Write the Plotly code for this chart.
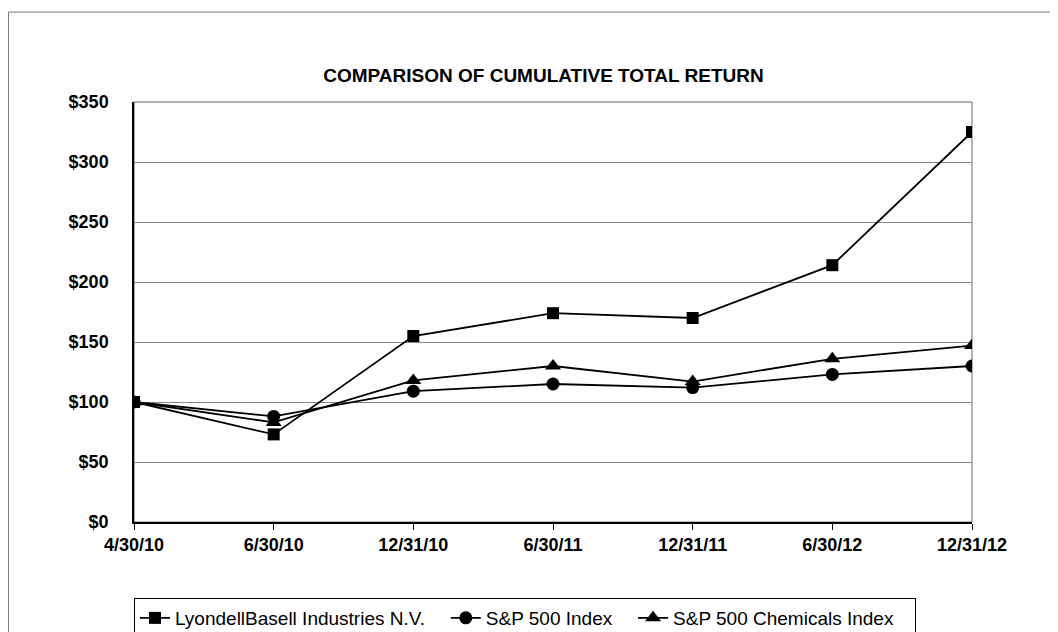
import plotly.graph_objects as go

dates = ["4/30/10", "6/30/10", "12/31/10", "6/30/11", "12/31/11", "6/30/12", "12/31/12"]
lyondell = [100, 73, 155, 174, 170, 214, 325]
sp500 = [100, 88, 109, 115, 112, 123, 130]
chemicals = [100, 83, 118, 130, 117, 136, 147]
yticks = list(range(0, 351, 50))
names = ["LyondellBasell Industries N.V.", "S&P 500 Index", "S&P 500 Chemicals Index"]

x = list(range(len(dates)))
pad = "\u00a0\u00a0\u00a0"
fig = go.Figure()
common = dict(mode="lines+markers", line=dict(color="black", width=1.8))
fig.add_trace(go.Scatter(x=x, y=lyondell, name=names[0] + pad,
                         marker=dict(symbol="square", size=12, color="black"), **common))
fig.add_trace(go.Scatter(x=x, y=sp500, name=names[1] + pad,
                         marker=dict(symbol="circle", size=13, color="black"), **common))
fig.add_trace(go.Scatter(x=x, y=chemicals, name=names[2] + pad,
                         marker=dict(symbol="triangle-up", size=14, color="black"), **common))

fig.update_layout(
    width=1050, height=624,
    margin=dict(l=126, r=86, t=94, b=110, autoexpand=False),
    paper_bgcolor="white", plot_bgcolor="white",
    font=dict(family="Liberation Sans, Arial", color="black"),
    title=dict(text="<b>COMPARISON OF CUMULATIVE TOTAL RETURN</b>", x=0.51, xanchor="center",
               y=0.8926, yanchor="middle", font=dict(size=19)),
    showlegend=True,
    legend=dict(orientation="h", x=0.0, xanchor="left", y=-0.181, yanchor="top",
                bordercolor="black", borderwidth=1, font=dict(size=19),
                tracegroupgap=0),
    xaxis=dict(range=[0, 6], tickvals=x, ticktext=["<b>%s</b>" % d for d in dates],
               showgrid=False, showline=True, linecolor="black", linewidth=1.5,
               ticks="outside", ticklen=6, tickcolor="black", tickfont=dict(size=18),
               zeroline=False, automargin=False),
    yaxis=dict(range=[0, 350], tickvals=yticks, ticktext=["<b>$%d</b>" % v for v in yticks],
               showgrid=True, gridcolor="#888888", gridwidth=1,
               showline=True, linecolor="black", linewidth=1.5, ticks="",
               tickfont=dict(size=18), zeroline=False, automargin=False,
               ticklabelstandoff=20),
)
# plot box top/right
fig.add_shape(type="rect", xref="paper", yref="paper", x0=0, x1=1, y0=0, y1=1,
              line=dict(color="#666666", width=1), layer="below")
# outer frame
fig.add_shape(type="rect", xref="paper", yref="paper", x0=-0.1497, x1=1.105, y0=-0.30, y1=1.214,
              line=dict(color="#777777", width=1))
fig.write_html("out.html")
